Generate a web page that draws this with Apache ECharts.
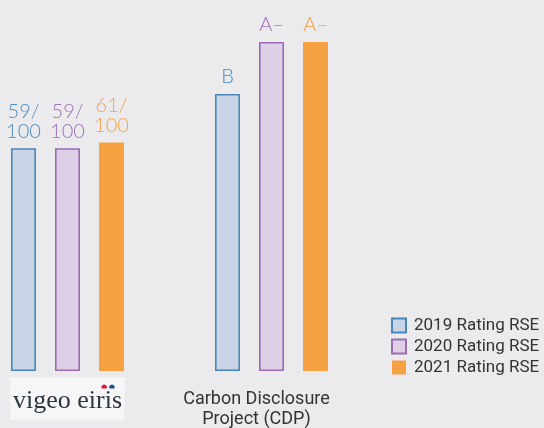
<!DOCTYPE html>
<html>
<head>
    <meta charset="utf-8" />
    <script src="https://cdn.jsdelivr.net/npm/echarts@6/dist/echarts.min.js"></script>
    <style>
        *{margin:0;padding:0;}
        body{background:#ebebee;}
        #main{width:544px;height:428px;}
    </style>
</head>
<body>
<div id="main"></div>
<script type="text/javascript">
    // raters on the x axis
    var categories = ['vigeo eiris', 'Carbon Disclosure\nProject (CDP)'];
    // bar heights (same scale as 59/100 and 61/100)
    var rating2019 = [59.6, 74.1];
    var rating2020 = [59.6, 88];
    var rating2021 = [61.1, 88];
    // text shown above each bar
    var labels2019 = ['59/\n100', 'B'];
    var labels2020 = ['59/\n100', 'A\u2013'];
    var labels2021 = ['61/\n100', 'A\u2013'];
    var seriesNames = ['2019 Rating RSE', '2020 Rating RSE', '2021 Rating RSE'];

    var myChart = echarts.init(document.getElementById('main'));

    function makeSeries(name, values, texts, fill, border, txtColor, bw) {
        return {
            name: name,
            type: 'bar',
            barWidth: 25,
            barGap: '76%',
            itemStyle: {color: fill, borderColor: border, borderWidth: bw},
            label: {
                show: true,
                position: 'top',
                distance: 7,
                color: txtColor,
                fontFamily: 'Lato',
                fontWeight: 300,
                fontSize: 20,
                lineHeight: 20,
                formatter: function (p) { return texts[p.dataIndex]; }
            },
            data: values
        };
    }

    var option = {
        backgroundColor: '#ebebee',
        animation: false,
        // boundaryGap false puts the two groups on the grid edges
        grid: {left: 67.5, right: 272.5, top: 42, bottom: 56},
        legend: {
            orient: 'vertical',
            left: 391,
            top: 317,
            padding: 0,
            itemWidth: 14,
            itemHeight: 14,
            itemGap: 4,
            icon: 'rect',
            textStyle: {fontFamily: 'Roboto', fontSize: 17, color: '#333', padding: [0, 0, 0, 3]},
            data: seriesNames
        },
        xAxis: {
            type: 'category',
            boundaryGap: false,
            data: categories,
            axisLine: {show: false},
            axisTick: {show: false},
            axisLabel: {
                interval: 0,
                margin: 10,
                formatter: function (v, i) {
                    if (i === 0) {
                        return '{dot1|\u25CF}{dot2|\u25CF}\n{logo|vigeo eiris}';
                    }
                    return '{sp| }\n{cdp|Carbon Disclosure}\n{cdp|Project (CDP)}';
                },
                rich: {
                    dot1: {color: '#d81b45', fontSize: 13, lineHeight: 9,
                        backgroundColor: '#f6f6f7', padding: [3, 0, 0, 90]},
                    dot2: {color: '#1f4f8f', fontSize: 13, lineHeight: 9,
                        backgroundColor: '#f6f6f7', padding: [3, 9, 0, 0]},
                    logo: {fontFamily: 'Liberation Serif', fontSize: 26, color: '#2c3640', width: 106,
                        align: 'center', lineHeight: 28, backgroundColor: '#f6f6f7', padding: [0, 4, 5, 4]},
                    sp: {fontSize: 2, lineHeight: 8},
                    cdp: {fontFamily: 'Roboto', fontSize: 18, color: '#333',
                        lineHeight: 20, padding: [0, 30, 0, 0]}
                }
            }
        },
        yAxis: {
            type: 'value',
            min: 0,
            max: 88,
            show: false
        },
        series: [
            makeSeries(seriesNames[0], rating2019, labels2019, '#c9d5e6', '#4a86b9', '#4f8cbf', 1.6),
            makeSeries(seriesNames[1], rating2020, labels2020, '#dccfe6', '#9b6cb1', '#9e6fb5', 1.6),
            makeSeries(seriesNames[2], rating2021, labels2021, '#f6a142', '#f6a142', '#f7a24a', 0)
        ]
    };

    myChart.setOption(option);
    window.onresize = myChart.resize;
</script>
</body>
</html>
